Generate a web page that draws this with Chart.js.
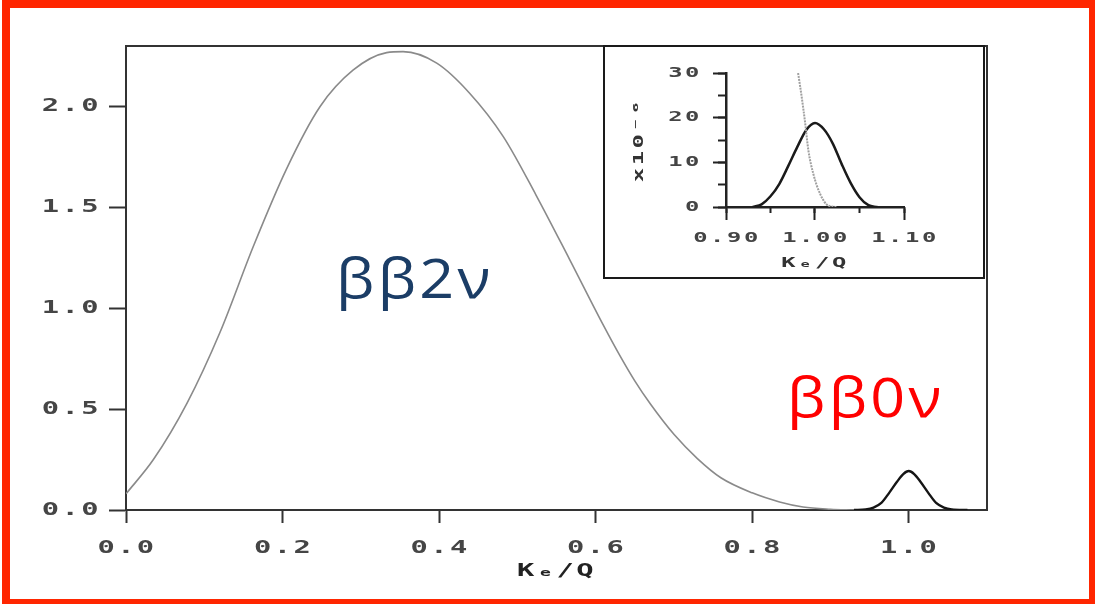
<!DOCTYPE html>
<html><head><meta charset="utf-8">
<script src="https://cdn.jsdelivr.net/npm/chart.js@4.4.1/dist/chart.umd.min.js"></script>
<style>
html,body{margin:0;padding:0;background:#fff;width:1095px;height:604px;overflow:hidden;}
#main{position:absolute;left:0;top:0;}
#frame{position:absolute;left:2px;top:0;width:1093px;height:604px;box-sizing:border-box;border:solid #ff2600;border-width:8px 6px 5px 8px;pointer-events:none;}
#inset{position:absolute;left:603px;top:45px;width:382px;height:234px;box-sizing:border-box;border:2.5px solid #1a1a1a;background:#fff;}
#insetCanvas{position:absolute;left:0;top:0;}
.lbl{position:absolute;font-family:'Open Sans',sans-serif;font-size:54px;line-height:54px;white-space:nowrap;letter-spacing:3px;transform:scaleX(1.13);transform-origin:left top;}
#l2{left:336px;top:250px;color:#1b3d66;}
#l0{left:787px;top:369px;color:#ff0000;}
</style></head>
<body>
<canvas id="main" width="1095" height="604"></canvas>
<div id="inset"><canvas id="insetCanvas" width="378" height="230"></canvas></div>
<div class="lbl" id="l2">ββ2ν</div>
<div class="lbl" id="l0">ββ0ν</div>
<div id="frame"></div>
<script>
// ---- data ----
const K2 = [0, 0.035, 0.078, 0.12, 0.163, 0.205, 0.248, 0.29, 0.333, 0.354, 0.397, 0.439, 0.482, 0.524, 0.567, 0.61, 0.631, 0.65, 0.67, 0.70, 0.73, 0.76, 0.80, 0.835, 0.865, 0.90, 0.93];
const S2 = [0.08, 0.25, 0.53, 0.88, 1.31, 1.69, 2.0, 2.18, 2.267, 2.272, 2.215, 2.066, 1.851, 1.56, 1.24, 0.915, 0.765, 0.64, 0.525, 0.375, 0.255, 0.16, 0.085, 0.04, 0.015, 0.004, 0];
const K0 = [0.93, 0.945, 0.955, 0.965, 0.975, 0.985, 0.993, 1.0, 1.007, 1.015, 1.025, 1.035, 1.045, 1.055, 1.075];
const S0 = [0, 0.003, 0.012, 0.035, 0.085, 0.14, 0.178, 0.193, 0.178, 0.14, 0.085, 0.035, 0.012, 0.003, 0];
const KI0 = [0.93, 0.94, 0.95, 0.96, 0.97, 0.98, 0.99, 1.0, 1.01, 1.02, 1.03, 1.04, 1.05, 1.06, 1.07];
const SI0 = [0, 0.6, 2.4, 5.2, 9.2, 13.4, 17.2, 18.8, 17.4, 14.2, 9.6, 5.4, 2.2, 0.4, 0];
const KI2 = [0.981, 0.985, 0.989, 0.9925, 0.998, 1.0056, 1.015, 1.025];
const SI2 = [30, 24.7, 18.7, 12.75, 7.5, 3.0, 0.3, 0];
const mainXTicks = [0, 0.2, 0.4, 0.6, 0.8, 1.0];
const mainYTicks = [0, 0.5, 1.0, 1.5, 2.0];
const xTitle = 'Kₑ/Q';
const insetYTitle = 'x10⁻⁶';

const pts = (xs, ys) => xs.map((x, i) => ({x: x, y: ys[i]}));
const mono = (size) => ({family: 'DejaVu Sans Mono', weight: 'bold', size: size});

// wide typewriter look: stretch chart text horizontally about its anchor point
function wideText(canvas, sx, ls) {
  const ctx = canvas.getContext('2d');
  const orig = ctx.fillText.bind(ctx);
  ctx.fillText = function(t, x, y) {
    ctx.save();
    ctx.letterSpacing = ls + 'px';
    ctx.translate(x, y);
    ctx.scale(sx, 1);
    orig(t, 0, 0);
    ctx.restore();
  };
}
wideText(document.getElementById('main'), 1.6, 1.5);
wideText(document.getElementById('insetCanvas'), 1.7, 1.5);

new Chart(document.getElementById('main'), {
  type: 'line',
  data: {datasets: [
    {data: pts(K2, S2), xAxisID: 'x', yAxisID: 'y', borderColor: '#8a8a8a', borderWidth: 1.6, pointRadius: 0, cubicInterpolationMode: 'monotone'},
    {data: pts(K0, S0), xAxisID: 'x', yAxisID: 'y', borderColor: '#151515', borderWidth: 2.4, pointRadius: 0, cubicInterpolationMode: 'monotone'}
  ]},
  options: {
    responsive: false, animation: false, events: [],
    layout: {padding: {left: 0, right: 108, top: 46, bottom: 0}},
    plugins: {legend: {display: false}, tooltip: {enabled: false}},
    scales: {
      x: {type: 'linear', position: 'bottom', min: 0, max: 1.1,
        afterFit(s){ s.height = 94; },
        afterBuildTicks(s){ s.ticks = mainXTicks.map(v => ({value: v})); },
        ticks: {callback: v => Number(v).toFixed(1), font: mono(18), color: '#454545', padding: 15, maxRotation: 0, autoSkip: false, labelOffset: 1},
        grid: {drawOnChartArea: false, tickLength: 13, tickWidth: 2, tickColor: '#333'},
        border: {color: '#333', width: 2},
        title: {display: true, text: xTitle, font: mono(18), color: '#222', padding: {top: 0, bottom: 22}}
      },
      y: {type: 'linear', position: 'left', min: 0, max: 2.3,
        afterFit(s){ s.width = 126; },
        afterBuildTicks(s){ s.ticks = mainYTicks.map(v => ({value: v})); },
        ticks: {callback: v => Number(v).toFixed(1), font: mono(18), color: '#454545', padding: 8, autoSkip: false},
        grid: {drawOnChartArea: false, tickLength: 17, tickWidth: 2, tickColor: '#333'},
        border: {color: '#333', width: 2}
      },
      xTop: {type: 'linear', position: 'top', min: 0, max: 1.1, afterFit(s){ s.height = 0; },
        ticks: {display: false}, grid: {display: false}, border: {display: true, color: '#333', width: 2}},
      yRight: {type: 'linear', position: 'right', min: 0, max: 2.3, afterFit(s){ s.width = 0; },
        ticks: {display: false}, grid: {display: false}, border: {display: true, color: '#333', width: 2}}
    }
  }
});

new Chart(document.getElementById('insetCanvas'), {
  type: 'line',
  data: {datasets: [
    {data: pts(KI2, SI2), xAxisID: 'x', yAxisID: 'y', borderColor: '#a0a0a0', borderWidth: 2, borderDash: [2, 1], pointRadius: 0, cubicInterpolationMode: 'monotone'},
    {data: pts(KI0, SI0), xAxisID: 'x', yAxisID: 'y', borderColor: '#1a1a1a', borderWidth: 2.5, pointRadius: 0, cubicInterpolationMode: 'monotone'}
  ]},
  options: {
    responsive: false, animation: false, events: [],
    layout: {padding: {left: 0, right: 79, top: 26, bottom: 0}},
    plugins: {legend: {display: false}, tooltip: {enabled: false}},
    scales: {
      x: {type: 'linear', position: 'bottom', min: 0.9, max: 1.1,
        afterFit(s){ s.height = 70; },
        ticks: {stepSize: 0.1, includeBounds: false, callback: v => Number(v).toFixed(2), font: mono(14), color: '#444', padding: 10, maxRotation: 0, autoSkip: false, labelOffset: 1},
        grid: {drawOnChartArea: false, tickLength: 13, tickWidth: 2, tickColor: '#222'},
        border: {color: '#222', width: 2.5},
        title: {display: true, text: xTitle, font: mono(14), color: '#333', padding: {top: 0, bottom: 5}}
      },
      y: {type: 'linear', position: 'left', min: 0, max: 30,
        afterFit(s){ s.width = 121; },
        ticks: {stepSize: 10, includeBounds: false, font: mono(14), color: '#444', padding: 11, autoSkip: false},
        grid: {drawOnChartArea: false, tickLength: 13, tickWidth: 2, tickColor: '#222'},
        border: {color: '#222', width: 2.5},
        title: {display: true, text: insetYTitle, font: mono(14), color: '#333', padding: {top: 26, bottom: 0}}
      },
      xm: {type: 'linear', axis: 'x', position: {y: 0}, min: 0.9, max: 1.1,
        ticks: {display: false, stepSize: 0.05, includeBounds: false},
        grid: {drawOnChartArea: false, tickLength: 6, tickWidth: 2, tickColor: '#222'}, border: {display: false}},
      ym: {type: 'linear', axis: 'y', position: {x: 0.9}, min: 0, max: 30,
        ticks: {display: false, stepSize: 5, includeBounds: false},
        grid: {drawOnChartArea: false, tickLength: 8, tickWidth: 2, tickColor: '#222'}, border: {display: false}}
    }
  }
});
</script>
</body></html>
